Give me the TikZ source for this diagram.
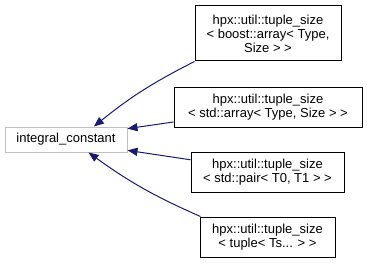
\documentclass[tikz,border=0pt]{standalone}
\usepackage{fontspec}
\setmainfont{Liberation Sans}
\usepackage{tikz}
\usetikzlibrary{arrows.meta}

\definecolor{edgeblue}{RGB}{25,25,112}

\begin{document}
\begin{tikzpicture}[
    x=1pt, y=1pt,
    cls/.style={draw=black, line width=1pt, inner sep=1pt, align=center,
        font=\fontsize{13}{14}\selectfont},
    base/.style={cls, draw=gray!50},
    inherit/.style={edgeblue, line width=1pt,
        -{Triangle[length=10pt, width=8pt]}}
]
\useasboundingbox (0,0) rectangle (367,263);

% base class on the left
\node[base, minimum width=122, minimum height=25] (intconst) at (66,123.5) {integral\_constant};

% derived specialisations on the right
\node[cls, minimum width=146, minimum height=55] (boostarr) at (268,229.5)
    {hpx::util::tuple\_size\\\textless{} boost::array\textless{} Type,\\Size \textgreater{} \textgreater};
\node[cls, minimum width=188, minimum height=40] (stdarr) at (268,156)
    {hpx::util::tuple\_size\\\textless{} std::array\textless{} Type, Size \textgreater{} \textgreater};
\node[cls, minimum width=153, minimum height=40] (stdpair) at (267.5,91)
    {hpx::util::tuple\_size\\\textless{} std::pair\textless{} T0, T1 \textgreater{} \textgreater};
\node[cls, minimum width=135, minimum height=40] (tuplets) at (267.5,26)
    {hpx::util::tuple\_size\\\textless{} tuple\textless{} Ts... \textgreater{} \textgreater};

% inheritance arrows
\draw[inherit] (boostarr.south west) to[bend right=6] (intconst.25);
\draw[inherit] (stdarr.189) -- (intconst.10);
\draw[inherit] (stdpair.171) -- (intconst.-10);
\draw[inherit] (tuplets.163) to[bend left=6] (intconst.-30);

\end{tikzpicture}
\end{document}
